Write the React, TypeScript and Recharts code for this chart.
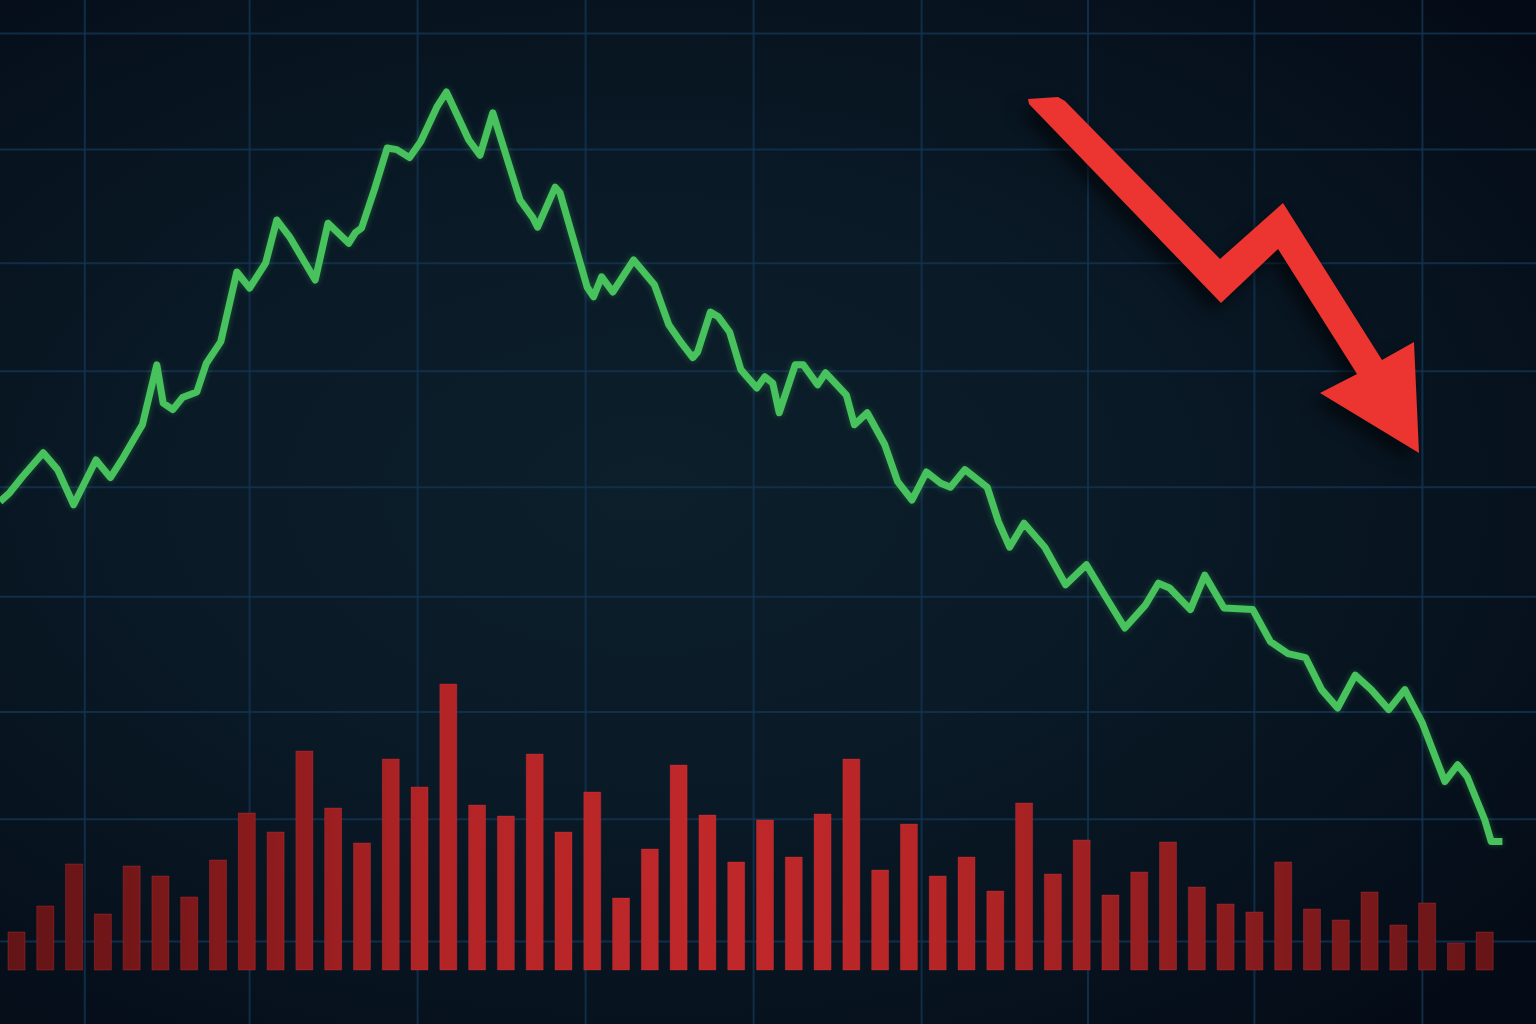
import {
	LineChart,
	Line,
	BarChart,
	Bar,
	XAxis,
	YAxis,
	CartesianGrid,
} from 'recharts';

// price path: t = trading session, p = price
const priceTimes = [
	0, 0.6, 1.4, 2.7, 3.6, 4.6, 6.0, 6.9, 7.7, 8.6, 8.9, 9.8, 10.2, 10.8, 11.4,
	12.3, 12.9, 13.8, 14.8, 15.6, 16.6, 17.3, 18.1, 19.7, 20.5, 21.8, 22.2,
	22.6, 23.4, 24.2, 24.8, 25.6, 26.3, 27.3, 27.9, 29.3, 30.0, 30.8, 32.5,
	33.3, 33.6, 34.7, 35.0, 36.7, 37.1, 37.6, 38.3, 39.6, 40.9, 41.8, 42.6,
	43.3, 43.6, 44.4, 44.9, 45.6, 46.3, 47.3, 47.8, 48.3, 48.7, 49.7, 50.2,
	51.1, 51.6, 52.9, 53.4, 54.2, 55.3, 56.1, 57.0, 57.9, 58.8, 59.4, 60.3,
	61.7, 62.4, 63.1, 64.0, 65.3, 66.6, 67.9, 69.1, 70.3, 71.6, 72.4, 73.1,
	74.4, 75.3, 76.5, 78.3, 79.4, 80.5, 81.6, 82.6, 83.6, 84.7, 85.7, 86.8,
	87.8, 88.9, 90.3, 91.1, 91.7, 92.8, 93.2, 93.9,
];
const prices = [
	65.3, 66.4, 68.4, 71.4, 69.3, 64.9, 70.5, 68.3, 70.8, 73.9, 74.9, 82.4,
	77.6, 76.8, 78.3, 79.0, 82.6, 85.3, 94.0, 92.0, 95.1, 100.5, 98.4, 93.0,
	100.1, 97.6, 98.9, 99.5, 104.3, 109.5, 109.3, 108.3, 110.3, 114.6, 116.5,
	110.5, 108.6, 113.9, 103.0, 100.8, 99.6, 104.6, 103.9, 92.1, 90.9, 93.4,
	91.5, 95.5, 92.4, 87.4, 85.1, 83.3, 84.0, 89.0, 88.4, 86.5, 81.8, 79.5,
	80.9, 80.1, 76.4, 82.4, 82.4, 79.9, 81.4, 78.6, 74.9, 76.4, 72.4, 67.8,
	65.5, 69.0, 67.6, 67.1, 69.3, 67.1, 62.8, 59.6, 62.6, 59.6, 54.9, 57.4,
	53.4, 49.5, 52.4, 55.1, 54.5, 51.8, 56.1, 52.0, 51.8, 47.8, 46.3, 45.8,
	41.8, 39.5, 43.6, 41.8, 39.3, 41.8, 37.6, 30.3, 32.4, 30.9, 25.5, 22.8,
	22.8,
];

// traded volume per session (millions)
const volumes = [
	3.8, 6.4, 10.6, 5.6, 10.4, 9.4, 7.3, 11.0, 15.7, 13.8, 21.9, 16.2, 12.7,
	21.1, 18.3, 28.6, 16.5, 15.4, 21.6, 13.8, 17.8, 7.2, 12.1, 20.5, 15.5, 10.8,
	15.0, 11.3, 15.6, 21.1, 10.0, 14.6, 9.4, 11.3, 7.9, 16.7, 9.6, 13.0, 7.5,
	9.8, 12.8, 8.3, 6.6, 5.8, 10.8, 6.1, 5.0, 7.8, 4.5, 6.7, 2.7, 3.8,
];

// grid positions on the price chart
const timeTicks = [5.3, 15.6, 26.1, 36.6, 47.1, 57.6, 68.0, 78.4, 88.9];
const priceTicks = [123.8, 109.3, 95.1, 81.6, 67.1, 53.4, 39.0, 25.6, 10.3];

const T_MAX = 96;
const P_MAX = 128;

const priceData = priceTimes.map((t, i) => ({ t, p: prices[i] }));
const volumeData = volumes.map((v, i) => ({ day: i + 1, v }));

const W = 1536;
const H = 1024;

const layer: React.CSSProperties = {
	position: 'absolute',
	left: 0,
	top: 0,
	width: W,
	height: H,
};

function scaleOf(axis: any, v: number, fallback: () => number) {
	if (axis && typeof axis.scale === 'function') return axis.scale(v);
	if (axis && axis.scale && typeof axis.scale.map === 'function')
		return axis.scale.map(v);
	return fallback();
}

export default function App() {
	return (
		<div
			style={{
				...layer,
				overflow: 'hidden',
				background:
					'radial-gradient(ellipse 75% 70% at 42% 48%, #0c1f2a 0%, #0a1a27 40%, #07131f 72%, #040b16 100%)',
			}}
		>
			<div style={layer}>
				<LineChart
					width={W}
					height={H}
					data={priceData}
					margin={{ top: 0, right: 0, left: 0, bottom: 0 }}
				>
					<CartesianGrid
						stroke="#133250"
						strokeWidth={2}
						strokeOpacity={0.85}
						verticalCoordinatesGenerator={({ xAxis, offset }: any) =>
							timeTicks.map((t) =>
								scaleOf(
									xAxis,
									t,
									() => offset.left + (offset.width * t) / T_MAX
								)
							)
						}
						horizontalCoordinatesGenerator={({ yAxis, offset }: any) =>
							priceTicks.map((p) =>
								scaleOf(
									yAxis,
									p,
									() =>
										offset.top + offset.height * (1 - p / P_MAX)
								)
							)
						}
					/>
					<XAxis dataKey="t" type="number" domain={[0, T_MAX]} hide />
					<YAxis type="number" domain={[0, P_MAX]} hide />
				</LineChart>
			</div>
			<div style={layer}>
				<BarChart
					width={W}
					height={H}
					data={volumeData}
					margin={{ top: 670, right: 37, left: 2, bottom: 54 }}
				>
					<defs>
						<linearGradient
							id="volFill"
							gradientUnits="userSpaceOnUse"
							x1="0"
							y1="0"
							x2={W}
							y2="0"
						>
							<stop offset="0%" stopColor="#611416" />
							<stop offset="15%" stopColor="#84191b" />
							<stop offset="28%" stopColor="#b22426" />
							<stop offset="45%" stopColor="#c0282a" />
							<stop offset="60%" stopColor="#b82627" />
							<stop offset="75%" stopColor="#941e20" />
							<stop offset="100%" stopColor="#621416" />
						</linearGradient>
					</defs>
					<XAxis dataKey="day" hide />
					<YAxis domain={[0, 30]} hide />
					<Bar
						dataKey="v"
						barSize={17}
						fill="url(#volFill)"
						stroke="#e0383a"
						strokeOpacity={0.3}
						strokeWidth={1}
						isAnimationActive={false}
					/>
				</BarChart>
			</div>
			<div
				style={{
					...layer,
					filter: 'drop-shadow(0 0 3px rgba(70, 200, 95, 0.35))',
				}}
			>
				<LineChart
					width={W}
					height={H}
					data={priceData}
					margin={{ top: 0, right: 0, left: 0, bottom: 0 }}
				>
					<XAxis dataKey="t" type="number" domain={[0, T_MAX]} hide />
					<YAxis type="number" domain={[0, P_MAX]} hide />
					<Line
						type="linear"
						dataKey="p"
						stroke="#47c25d"
						strokeWidth={7}
						strokeLinejoin="round"
						dot={false}
						isAnimationActive={false}
					/>
				</LineChart>
			</div>
			<svg
				width={W}
				height={H}
				style={{
					...layer,
					filter: 'drop-shadow(-8px 10px 8px rgba(0, 0, 0, 0.55))',
				}}
			>
				<polygon
					points="1028,99 1058,97 1065,101 1220,259 1283,203 1382,360 1414,342 1419,453 1320,393 1357,374 1278,249 1221,303 1029,104"
					fill="#ec3430"
				/>
			</svg>
		</div>
	);
}
